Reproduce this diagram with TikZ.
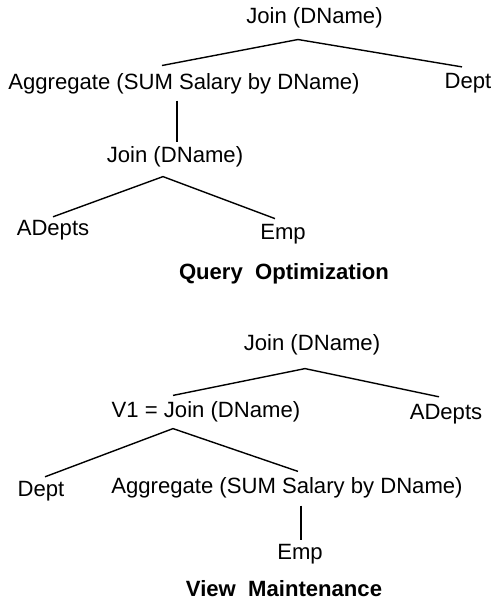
\documentclass[tikz,border=0pt]{standalone}
\usepackage{fontspec}
\setmainfont{Liberation Sans}
\usetikzlibrary{positioning}

\begin{document}
\begin{tikzpicture}[node distance=33pt,line width=0.7pt,
        every node/.style={inner sep=0pt,font=\fontsize{11.05}{13}\selectfont},
        treetitle/.style={font=\fontsize{11.05}{13}\selectfont\bfseries}]

  \useasboundingbox (0,0) rectangle (246.5pt,-300.5pt);

  % query optimization plan
  \node (join1) at (157.25pt,-8.75pt) {Join (DName)};
  \node (agg1) [below of=join1, xshift=-65.25pt] {Aggregate (SUM Salary by DName)};
  \node (dept1) [below of=join1, xshift=76.75pt] {Dept};
  \node (join2) [below of=agg1, xshift=-4.5pt, yshift=-3.75pt] {Join (DName)};
  \node (adepts1) [below of=join2, xshift=-61pt, yshift=-3.5pt] {ADepts};
  \node (emp1) [below of=join2, xshift=54pt, yshift=-5.5pt] {Emp};
  \node[treetitle] (qo) at (142pt,-136.75pt) {Query\ \ Optimization};

  \path ([xshift=-8.25pt,yshift=-5.5pt]join1.south) edge ([xshift=-11pt,yshift=3.5pt]agg1.north)
        ([xshift=-8.25pt,yshift=-5.5pt]join1.south) edge ([xshift=-3pt,yshift=3pt]dept1.north)
        ([xshift=-3.5pt,yshift=-3pt]agg1.south)     edge ([xshift=1pt,yshift=1.8pt]join2.north)
        ([xshift=-6pt,yshift=-4.3pt]join2.south)    edge ([yshift=1.3pt]adepts1.north)
        ([xshift=-6pt,yshift=-4.3pt]join2.south)    edge ([xshift=-4pt,yshift=2.4pt]emp1.north);

  % view maintenance plan
  \node (join3) at (156pt,-172.5pt) {Join (DName)};
  \node (v1) [below of=join3, xshift=-53pt, yshift=-0.5pt] {V1 = Join (DName)};
  \node (adepts2) [below of=join3, xshift=67pt, yshift=-1.5pt] {ADepts};
  \node (dept2) [below of=v1, xshift=-82.5pt, yshift=-6.5pt] {Dept};
  \node (agg2) [below of=v1, xshift=40.5pt, yshift=-5pt] {Aggregate (SUM Salary by DName)};
  \node (emp2) [below of=agg2, xshift=6.5pt] {Emp};
  \node[treetitle] (vm) at (142pt,-294.25pt) {View\ \ Maintenance};

  \path ([xshift=-3.5pt,yshift=-6.3pt]join3.south) edge ([xshift=-16.5pt,yshift=2.8pt]v1.north)
        ([xshift=-3.5pt,yshift=-6.3pt]join3.south) edge ([xshift=-3.5pt,yshift=3.3pt]adepts2.north)
        ([xshift=-16.5pt,yshift=-2.8pt]v1.south)   edge ([xshift=2pt,yshift=1.8pt]dept2.north)
        ([xshift=-16.5pt,yshift=-2.8pt]v1.south)   edge ([xshift=5.5pt,yshift=2.8pt]agg2.north)
        ([xshift=7pt,yshift=-3.3pt]agg2.south)     edge ([xshift=0.5pt,yshift=1.9pt]emp2.north);

\end{tikzpicture}
\end{document}
